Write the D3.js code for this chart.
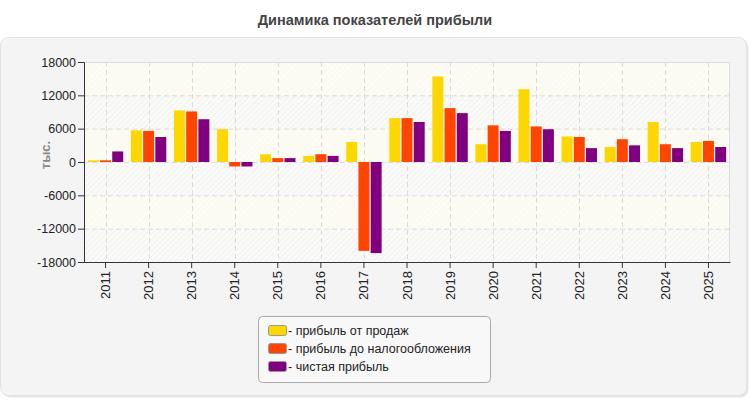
<!DOCTYPE html>
<html><head><meta charset="utf-8">
<script src="https://cdn.jsdelivr.net/npm/d3@7"></script>
<style>body{margin:0;background:#fff;font-family:"Liberation Sans",Arial,sans-serif}</style>
</head><body><svg id="c" width="750" height="400"></svg>
<script>
const years = ["2011","2012","2013","2014","2015","2016","2017","2018","2019","2020","2021","2022","2023","2024","2025"];
const salesProfit = [300,5700,9300,5900,1400,1100,3600,7900,15400,3200,13100,4600,2700,7200,3600];
const preTaxProfit = [300,5600,9100,-800,700,1400,-16000,7900,9700,6600,6400,4500,4100,3200,3800];
const netProfit = [1900,4500,7700,-800,700,1100,-16400,7200,8800,5600,5900,2500,3000,2500,2700];
const yTicks = [-18000,-12000,-6000,0,6000,12000,18000];
const seriesNames = ["- прибыль от продаж","- прибыль до налогообложения","- чистая прибыль"];
const colors = ["#ffd700","#ff4500","#800080"];

const svg = d3.select("#c");
const defs = svg.append("defs");
const pat = defs.append("pattern").attr("id","hatch").attr("patternUnits","userSpaceOnUse")
  .attr("width",4).attr("height",4).attr("patternTransform","rotate(45)");
pat.append("line").attr("x1",0).attr("y1",0).attr("x2",0).attr("y2",4).attr("stroke","#ececec").attr("stroke-width",1.2);

svg.append("text").attr("x",375).attr("y",25).attr("text-anchor","middle")
  .attr("font-size",14.5).attr("font-weight","bold").attr("fill","#444").text("Динамика показателей прибыли");

svg.append("rect").attr("x",2.5).attr("y",39.5).attr("width",746).attr("height",358).attr("rx",8)
  .attr("fill","#e6e6e6");
svg.append("rect").attr("x",0.5).attr("y",37.5).attr("width",746).attr("height",358).attr("rx",8)
  .attr("fill","#f4f4f4").attr("stroke","#e2e2e2");

const L=84, R=730, T=62, B=262;
const x = d3.scaleBand().domain(years).range([L,R]);
const y = d3.scaleLinear().domain([-18000,18000]).range([B,T]);

const g = svg.append("g");
for (let i=0;i<yTicks.length-1;i++){
  const lo=yTicks[i], hi=yTicks[i+1];
  const yellow = (i%2===1);
  g.append("rect").attr("x",L).attr("y",y(hi)).attr("width",R-L).attr("height",y(lo)-y(hi))
    .attr("fill", yellow ? "#fcfcf3" : "#fafaf8");
  g.append("rect").attr("x",L).attr("y",y(hi)).attr("width",R-L).attr("height",y(lo)-y(hi))
    .attr("fill","url(#hatch)").attr("opacity", yellow?0.35:1);
}
g.selectAll(".hg").data(yTicks.slice(1,-1)).join("line").attr("x1",L).attr("x2",R)
  .attr("y1",d=>y(d)+0.5).attr("y2",d=>y(d)+0.5).attr("stroke","#dcdcdc").attr("stroke-dasharray","5,3");
g.selectAll(".vg").data(years).join("line").attr("y1",T).attr("y2",B)
  .attr("x1",d=>Math.round(x(d)+x.bandwidth()/2)+0.5).attr("x2",d=>Math.round(x(d)+x.bandwidth()/2)+0.5)
  .attr("stroke","#dcdcdc").attr("stroke-dasharray","5,3");
svg.append("line").attr("x1",L).attr("x2",R).attr("y1",T+0.5).attr("y2",T+0.5).attr("stroke","#dcdcdc");
svg.append("line").attr("x1",R-0.5).attr("x2",R-0.5).attr("y1",T).attr("y2",B).attr("stroke","#dcdcdc");

const series=[salesProfit,preTaxProfit,netProfit];
const bw=11, gap=1.2;
const inner = d3.scaleBand().domain([0,1,2]).range([0,3*bw+2*gap]).paddingInner(gap/(bw+gap));
const off = (x.bandwidth()-(3*bw+2*gap))/2;
series.forEach((s,si)=>{
  svg.append("g").selectAll("rect").data(s).join("rect")
    .attr("x",(d,i)=>x(years[i])+off+inner(si))
    .attr("width",inner.bandwidth())
    .attr("y",d=>y(Math.max(0,d)))
    .attr("height",d=>Math.abs(y(d)-y(0)))
    .attr("fill",colors[si]);
});

const ya = svg.append("g").attr("transform",`translate(${L},0)`)
  .call(d3.axisLeft(y).tickValues(yTicks).tickSize(6).tickPadding(2).tickFormat(d=>String(d)));
ya.select(".domain").attr("stroke","#333");
ya.selectAll("line").attr("stroke","#333");
ya.selectAll("text").attr("font-size",12.5).attr("fill","#222").attr("font-family","Liberation Sans, Arial, sans-serif");

const xa = svg.append("g").attr("transform",`translate(0,${B})`)
  .call(d3.axisBottom(x).tickSize(6).tickSizeOuter(0));
xa.select(".domain").attr("stroke","#333");
xa.selectAll("line").attr("stroke","#333");
xa.selectAll("text").attr("font-size",13).attr("fill","#222").attr("font-family","Liberation Sans, Arial, sans-serif")
  .attr("transform","rotate(-90)").attr("text-anchor","end").attr("dy","0.35em").attr("x",-9).attr("y",0);

svg.append("text").attr("transform","translate(50,155) rotate(-90)").attr("text-anchor","middle")
  .attr("font-size",13).attr("font-weight","bold").attr("fill","#888").text("тыс.");

const lg = svg.append("g");
lg.append("rect").attr("x",258.5).attr("y",316.5).attr("width",232).attr("height",66).attr("rx",4)
  .attr("fill","#f8f8f8").attr("stroke","#aaa");
seriesNames.forEach((n,i)=>{
  const yy = 331+i*18;
  lg.append("rect").attr("x",268.5).attr("y",yy-5.5).attr("width",18).attr("height",10).attr("rx",2)
    .attr("fill",colors[i]).attr("stroke","#999");
  lg.append("text").attr("x",288).attr("y",yy+4).attr("font-size",12.5).attr("fill","#222").text(n);
});
</script></body></html>
